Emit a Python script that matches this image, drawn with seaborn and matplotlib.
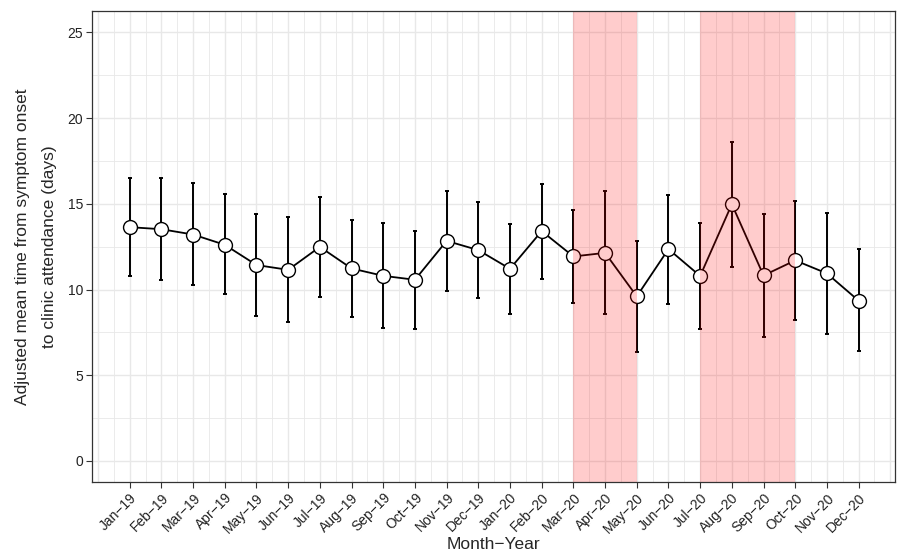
import numpy as np
import pandas as pd
import seaborn as sns
import matplotlib.pyplot as plt

# monthly adjusted means with 95% intervals
months = ['Jan-19', 'Feb-19', 'Mar-19', 'Apr-19', 'May-19', 'Jun-19',
          'Jul-19', 'Aug-19', 'Sep-19', 'Oct-19', 'Nov-19', 'Dec-19',
          'Jan-20', 'Feb-20', 'Mar-20', 'Apr-20', 'May-20', 'Jun-20',
          'Jul-20', 'Aug-20', 'Sep-20', 'Oct-20', 'Nov-20', 'Dec-20']
mean_days = [13.64, 13.52, 13.21, 12.61, 11.43, 11.15, 12.49, 11.23, 10.80,
             10.57, 12.84, 12.30, 11.21, 13.41, 11.93, 12.14, 9.60, 12.36,
             10.79, 14.98, 10.82, 11.70, 10.94, 9.35]
ci_low = [10.79, 10.57, 10.24, 9.72, 8.47, 8.08, 9.56, 8.38, 7.76,
          7.72, 9.89, 9.48, 8.57, 10.61, 9.19, 8.55, 6.38, 9.16,
          7.72, 11.31, 7.21, 8.22, 7.43, 6.40]
ci_high = [16.51, 16.49, 16.20, 15.56, 14.40, 14.24, 15.42, 14.07, 13.87,
           13.42, 15.77, 15.10, 13.83, 16.18, 14.67, 15.74, 12.82, 15.52,
           13.87, 18.61, 14.43, 15.17, 14.47, 12.34]
# shaded periods (start month, end month)
lockdowns = [('Mar-20', 'May-20'), ('Jul-20', 'Oct-20')]

df = pd.DataFrame({'month': months, 'mean': mean_days,
                   'lo': ci_low, 'hi': ci_high})
df['pos'] = np.arange(len(df))

sns.set_theme(style='white')
plt.rcParams['font.family'] = ['Liberation Sans', 'DejaVu Sans']

fig = plt.figure(figsize=(8.99, 5.54), dpi=100)
ax = fig.add_axes([0.102, 0.1294, 0.8936, 0.8506])

# grid: major + minor at half steps
for v in np.arange(-1, 24.01, 0.5):
    ax.axvline(v, color='#e8e8e8', lw=1.0 if v % 1 == 0 else 0.6, zorder=0)
for v in np.arange(0, 26, 2.5):
    ax.axhline(v, color='#e8e8e8', lw=1.0 if v % 5 == 0 else 0.6, zorder=0)

ax.errorbar(df.pos, df['mean'],
            yerr=[df['mean'] - df.lo, df.hi - df['mean']],
            fmt='none', ecolor='black', elinewidth=1.4,
            capsize=1.4, capthick=1.4, zorder=2)
sns.lineplot(data=df, x='pos', y='mean', color='black', lw=1.3,
             marker='o', markersize=10, markerfacecolor='white',
             markeredgecolor='black', markeredgewidth=1.0,
             ax=ax, zorder=3)

for start, end in lockdowns:
    ax.axvspan(months.index(start), months.index(end),
               color='red', alpha=0.2, lw=0, zorder=5)

ax.set_xlim(-1.2, 24.15)
ax.set_ylim(-1.25, 26.25)
ax.set_xticks(df.pos)
ax.set_xticklabels([m.replace('-', '\u2212') for m in months],
                   rotation=45, ha='right', va='top',
                   rotation_mode='anchor', fontsize=10, color='#222222')
ax.set_yticks([0, 5, 10, 15, 20, 25])
ax.set_yticklabels(['0', '5', '10', '15', '20', '25'],
                   fontsize=10, color='#222222')
ax.tick_params(axis='both', direction='out', length=4, width=0.8,
               color='#333333', bottom=True, left=True, pad=2)

for s in ax.spines.values():
    s.set_color('#333333')
    s.set_linewidth(0.9)
    s.set_zorder(6)

ax.set_xlabel('Month\u2212Year', fontsize=12.5, labelpad=1)
ax.set_ylabel('Adjusted mean time from symptom onset\nto clinic attendance (days)',
              fontsize=12.5, labelpad=8, linespacing=2.0, ha='center')

fig.savefig('out.png', dpi=100)
